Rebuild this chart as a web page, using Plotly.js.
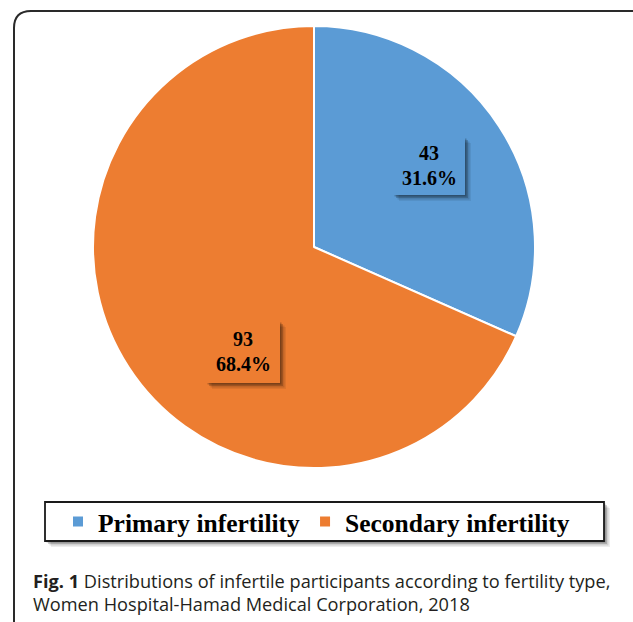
<!DOCTYPE html>
<html>
<head>
<meta charset="utf-8">
<script src="https://cdn.plot.ly/plotly-3.0.1.min.js"></script>
<style>html,body{margin:0;padding:0;background:#fff;}#chart{width:633px;height:622px;}</style>
</head>
<body>
<div id="chart"></div>
<script>
// ---- data ----
const categories = ["Primary infertility", "Secondary infertility"];
const counts = [43, 93];
const sliceColors = ["#5B9BD5", "#ED7D31"];
const captionBold = "Fig. 1";
const captionLine1 = "Distributions of infertile participants according to fertility type,";
const captionLine2 = "Women Hospital-Hamad Medical Corporation, 2018";

// ---- layout helpers (pixel -> paper) ----
const W = 633, H = 622;
const px = x => x / W;
const py = y => 1 - y / H;

const total = counts.reduce((a, b) => a + b, 0);
const pctText = counts.map(v => (v / total * 100).toFixed(1) + "%");

// label box centres (pixels) and size
const labelBoxes = [
  {cx: 429, cy: 166, w: 72, h: 58},
  {cx: 243, cy: 352, w: 74, h: 62}
];

const shapes = [];
function shadow(x0, y0, x1, y1) {
  const layers = [[1.5, 0.22], [3, 0.18], [4.5, 0.12], [6, 0.07]];
  layers.forEach(([d, a]) => {
    shapes.push({type: "rect", xref: "paper", yref: "paper", layer: "above",
      x0: px(x0 + d), x1: px(x1 + d), y0: py(y0 + d), y1: py(y1 + d),
      line: {width: 0}, fillcolor: "rgba(0,0,0," + a + ")"});
  });
}

const annotations = [];
const labelFont = {family: "Liberation Serif", size: 20, color: "#000", weight: "bold"};
labelBoxes.forEach((b, i) => {
  const x0 = b.cx - b.w / 2, x1 = b.cx + b.w / 2, y0 = b.cy - b.h / 2, y1 = b.cy + b.h / 2;
  shadow(x0, y0, x1, y1);
  shapes.push({type: "rect", xref: "paper", yref: "paper", layer: "above",
    x0: px(x0), x1: px(x1), y0: py(y0), y1: py(y1),
    line: {width: 0}, fillcolor: sliceColors[i]});
  annotations.push({
    xref: "paper", yref: "paper", x: px(b.cx), y: py(b.cy - 13),
    xanchor: "center", yanchor: "middle", showarrow: false,
    text: "<b>" + counts[i] + "</b>", font: labelFont
  });
  annotations.push({
    xref: "paper", yref: "paper", x: px(b.cx), y: py(b.cy + 12),
    xanchor: "center", yanchor: "middle", showarrow: false,
    text: "<b>" + pctText[i] + "</b>", font: labelFont
  });
});

// legend box with shadow
shadow(45, 502, 604, 541);
shapes.push({type: "rect", xref: "paper", yref: "paper", layer: "above",
  x0: px(45), x1: px(604), y0: py(502), y1: py(541),
  line: {color: "#1a1a1a", width: 1.8}, fillcolor: "#ffffff"});

// outer rounded frame
shapes.push({type: "path", xref: "paper", yref: "paper", layer: "above",
  path: `M ${px(14)},${py(640)} L ${px(14)},${py(28)} Q ${px(14)},${py(11)} ${px(31)},${py(11)} L ${px(650)},${py(11)}`,
  line: {color: "#2a2a2a", width: 2}});

// caption
const capFont = {family: "Open Sans", size: 18.2, color: "#231f20"};
annotations.push({
  xref: "paper", yref: "paper", x: px(31), y: py(580.5), xanchor: "left", yanchor: "middle",
  showarrow: false, align: "left",
  text: "<b>" + captionBold + "</b> " + captionLine1, font: capFont
});
annotations.push({
  xref: "paper", yref: "paper", x: px(31), y: py(603.5), xanchor: "left", yanchor: "middle",
  showarrow: false, align: "left",
  text: captionLine2, font: capFont
});

const trace = {
  type: "pie",
  labels: categories,
  values: counts,
  sort: false,
  direction: "clockwise",
  rotation: 0,
  marker: {colors: sliceColors, line: {color: "#ffffff", width: 2}},
  textinfo: "none",
  hoverinfo: "label+value+percent",
  domain: {x: [px(93), px(535)], y: [py(468), py(26)]}
};

const layout = {
  width: W, height: H,
  margin: {l: 0, r: 0, t: 0, b: 0},
  paper_bgcolor: "#ffffff",
  showlegend: true,
  legend: {
    orientation: "h", x: px(58), xanchor: "left", y: py(522), yanchor: "middle",
    bgcolor: "rgba(0,0,0,0)", borderwidth: 0,
    font: {family: "Liberation Serif", size: 25.5, color: "#000", weight: "bold"}
  },
  shapes: shapes,
  annotations: annotations
};

Plotly.newPlot("chart", [trace], layout, {displayModeBar: false, staticPlot: true});
</script>
</body>
</html>
